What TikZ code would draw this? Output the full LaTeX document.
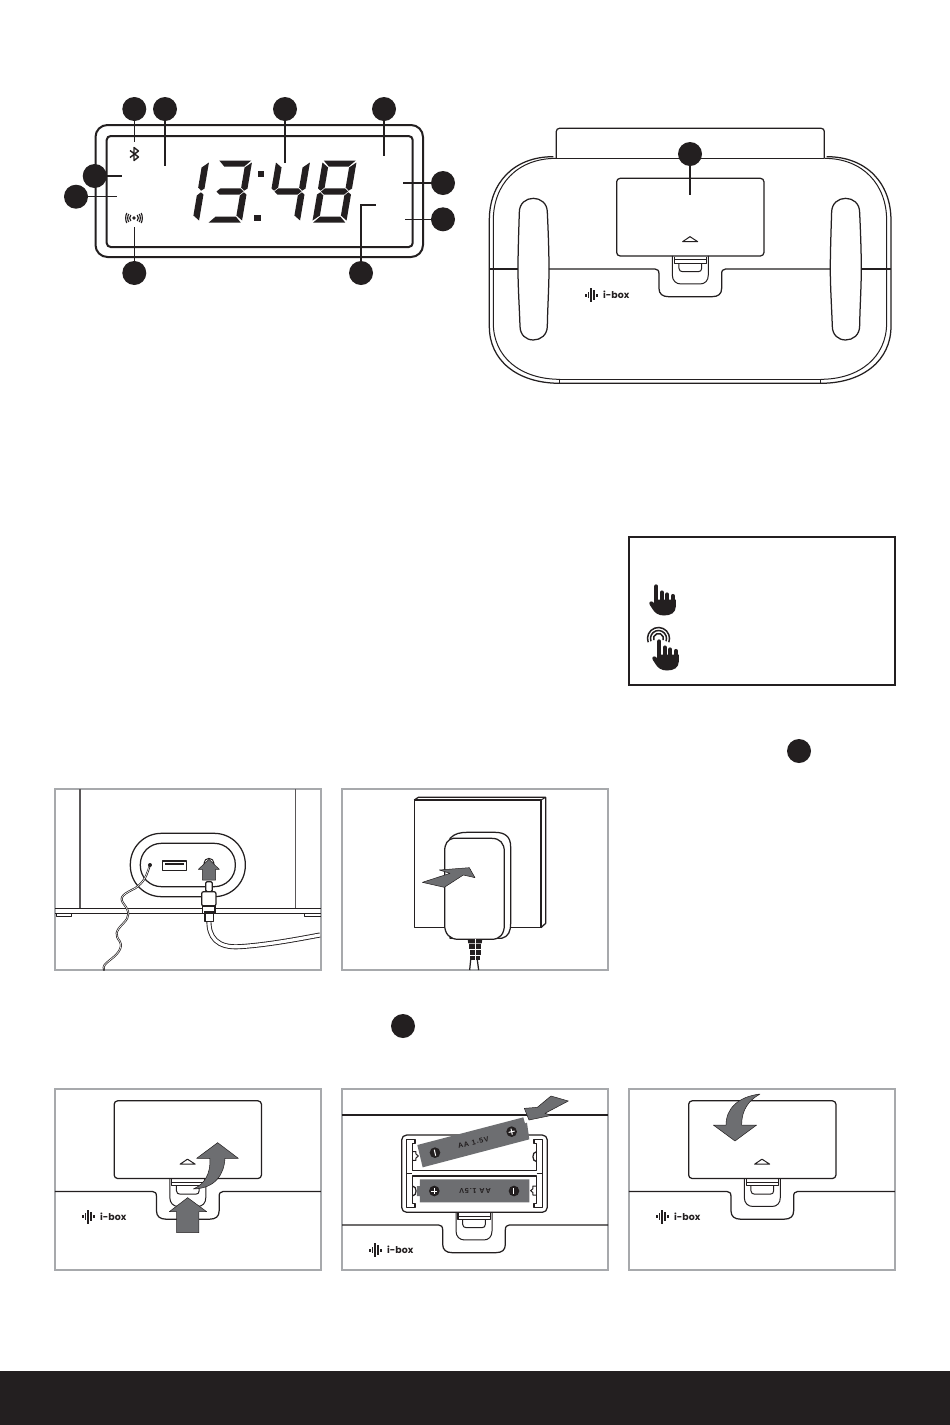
\documentclass[tikz,border=0pt]{standalone}
\usepackage{fontspec}
\setmainfont{Poppins}
\newfontfamily\batfont[LetterSpace=12]{Liberation Sans}
\definecolor{ink}{HTML}{231F20}
\definecolor{frameg}{HTML}{A7A9AC}
\definecolor{arrowg}{HTML}{6D6E71}
\tikzset{
  callout/.style={circle,fill=ink,minimum size=24pt,inner sep=0pt},
  lead/.style={draw=ink,line width=1.5pt},
  ln/.style={draw=ink,line width=1.25pt,line join=round},
  thin line/.style={draw=ink,line width=1pt,line join=round},
  panelbox/.style={draw=frameg,line width=2.5pt},
  grayarrow/.style={fill=arrowg,draw=ink,line width=.5pt,line join=round},
  seg/.style={fill=ink,draw=none},
  ztext/.style={inner sep=0pt,text=ink},
}
\newcommand{\tabgroup}[2]{%
  \draw[ln] (#1,447) -- (525,447) .. controls (533,447) and (537,452) .. (537,462) -- (537,505)
     .. controls (537,522) and (548,530) .. (565,530) -- (697,530) .. controls (715,530) and (725,522) .. (725,505)
     -- (725,462) .. controls (725,452) and (729,447) .. (737,447) -- (#2,447);
  \draw[thin line] (577,408) -- (577,465) .. controls (577,482) and (588,492) .. (603,492) -- (660,492)
     .. controls (675,492) and (685,482) .. (685,465) -- (685,408);
  \draw[ln] (583,410) -- (583,430) -- (680,430) -- (680,410);
  \draw[thin line] (583,420) -- (680,420);
  \draw[thin line] (597,430) -- (597,445) .. controls (597,452) and (602,455) .. (608,455) -- (655,455)
     .. controls (661,455) and (665,452) .. (665,445) -- (665,430);
}
\newcommand{\doorshape}{%
  \draw[ln,rounded corners=3.5pt] (410,175) rectangle (852,408);
  \draw[thin line] (608,365) -- (630,350) -- (653,365) -- cycle;
}
\newcommand{\ibox}[3]{%
  \begin{scope}[shift={(#2,#3)}]
    \fill[ink] (0,-1.5) rectangle (1.8,1.5);
    \fill[ink] (2.6,-3.4) rectangle (4.4,3.4);
    \fill[ink] (5.3,-7) rectangle (7.1,7);
    \fill[ink] (8,-4.7) rectangle (9.8,4.7);
    \fill[ink] (11.2,-1.5) rectangle (13,1.5);
    \node[ztext,anchor=west,font=\fontsize{9.4}{10}\selectfont\bfseries] (#1) at (18,0) {i-box};
  \end{scope}}
\newcommand{\segA}{\fill[seg] (1,-31)--(33,-31)--(27,-25)--(7,-25)--cycle;}
\newcommand{\segB}{\fill[seg] (34,-29)--(34,-3)--(31,-.8)--(27.5,-4)--(27.5,-24)--cycle;}
\newcommand{\segC}{\fill[seg] (34,3)--(34,29)--(27.5,24)--(27.5,4)--(31,.8)--cycle;}
\newcommand{\segD}{\fill[seg] (1,31)--(33,31)--(27,25)--(7,25)--cycle;}
\newcommand{\segE}{\fill[seg] (0,3)--(0,29)--(6.5,24)--(6.5,4)--(3,.8)--cycle;}
\newcommand{\segF}{\fill[seg] (0,-29)--(0,-3)--(3,-.8)--(6.5,-4)--(6.5,-24)--cycle;}
\newcommand{\segG}{\fill[seg] (3.5,0)--(7,-3.2)--(27,-3.2)--(30.5,0)--(27,3.2)--(7,3.2)--cycle;}
\newcommand{\handicon}[2]{%
  \begin{scope}[shift={(#1,#2)}]
    \fill[ink] (5,15) -- (26.8,15) -- (26.8,22) .. controls (26.8,28) and (22,31) .. (15,31)
       .. controls (9,31) and (5.5,28) .. (3.5,24.5) .. controls (1.5,22) and (-.5,19) .. (.8,17.3)
       .. controls (2,16) and (4,17) .. (5.5,19) -- cycle;
    \draw[ink,line width=4.3pt,line cap=round] (7.3,2) -- (7.3,20);
    \draw[ink,line width=4.2pt,line cap=round] (12.8,8) -- (12.8,20);
    \draw[ink,line width=4.2pt,line cap=round] (18.2,10) -- (18.2,20);
    \draw[ink,line width=4.2pt,line cap=round] (23.8,11.5) -- (23.8,20);
  \end{scope}}
\begin{document}
\begin{tikzpicture}[x=1pt,y=-1pt]
\useasboundingbox (0,0) rectangle (950,1425);
\fill[white] (0,0) rectangle (950,1425);
\fill[ink] (0,1371) rectangle (950,1425);

%%% LCD
\draw[draw=ink,line width=2pt,rounded corners=12pt] (95.5,125) rectangle (423,257);
\draw[draw=ink,line width=2pt,rounded corners=4pt] (106.7,136) rectangle (412.7,247);
\begin{scope}[shift={(170,191.5)},xslant=0.17]\segB\segC\end{scope}
\begin{scope}[shift={(213,191.5)},xslant=0.17]\segA\segB\segC\segD\segG\end{scope}
\begin{scope}[shift={(271,191.5)},xslant=0.17]\segB\segC\segF\segG\end{scope}
\begin{scope}[shift={(317.5,191.5)},xslant=0.17]\segA\segB\segC\segD\segE\segF\segG\end{scope}
\fill[ink] (257.5,171) rectangle +(6.5,6.3);
\fill[ink] (254,214.5) rectangle +(6.5,6.3);
\draw[ink,line width=1.4pt,line join=round] (130,150.5)--(138.5,157)--(134,160.5)--(134,147.5)--(138.5,151)--(130,157.5);
\fill[ink] (134,218) circle (1.9);
\foreach \r/\h in {3.2/3,5.2/4,7.2/5}{
  \draw[ink,line width=1.15pt] (134-\r,218-\h) .. controls (134-\r-1.5,218-\h/2) and (134-\r-1.5,218+\h/2) .. (134-\r,218+\h);
  \draw[ink,line width=1.15pt] (134+\r,218-\h) .. controls (134+\r+1.5,218-\h/2) and (134+\r+1.5,218+\h/2) .. (134+\r,218+\h);
}
\node[callout] (c1) at (134.3,109) {};
\node[callout] (c2) at (165,109) {};
\node[callout] (c3) at (285,109) {};
\node[callout] (c4) at (384,109) {};
\node[callout] (c5) at (94.7,176) {};
\node[callout] (c6) at (76,196.7) {};
\node[callout] (c7) at (443,183) {};
\node[callout] (c8) at (443,219.3) {};
\node[callout] (c9) at (134.3,273) {};
\node[callout] (c10) at (361,273) {};
\coordinate (e1) at (134.3,142);
\coordinate (e2) at (165,166);
\coordinate (e3) at (285,162.7);
\coordinate (e4) at (384,156);
\coordinate (e5) at (122,176);
\coordinate (e6) at (117.3,196.7);
\coordinate (e7) at (402.7,183);
\coordinate (e8) at (405,219.3);
\coordinate (e9) at (134.3,226.7);
\coordinate (e10a) at (361,205);
\coordinate (e10) at (375.7,205);
\draw[lead] (c1) -- (e1);
\draw[lead] (c2) -- (e2);
\draw[lead] (c3) -- (e3);
\draw[lead] (c4) -- (e4);
\draw[lead] (c5) -- (e5);
\draw[lead] (c6) -- (e6);
\draw[lead] (c7) -- (e7);
\draw[lead] (c8) -- (e8);
\draw[lead] (c9) -- (e9);
\draw[lead] (c10) -- (e10a) -- (e10);

%%% Device rear
\begin{scope}[shift={(480,120)},x=.3333pt,y=-.3333pt]
  \draw[ln,rounded corners=3pt] (229,115) -- (229,25) -- (1033,25) -- (1033,115);
  \draw[ln] (229,115) -- (1033,115);
  \draw[ln] (220,110) .. controls (100,110) and (28,190) .. (28,300) -- (28,620)
     .. controls (28,720) and (110,790) .. (240,790) -- (1022,790)
     .. controls (1150,790) and (1233,720) .. (1233,620) -- (1233,300)
     .. controls (1233,190) and (1160,110) .. (1040,110);
  \draw[thin line] (229,115) .. controls (110,115) and (40,195) .. (40,300) -- (40,610)
     .. controls (40,710) and (120,778) .. (240,778);
  \draw[thin line] (1033,115) .. controls (1150,115) and (1220,195) .. (1220,300) -- (1220,610)
     .. controls (1220,710) and (1140,778) .. (1022,778);
  \draw[ln] (240,778) -- (1022,778);
  \draw[thin line] (240,778) -- (240,790);
  \draw[thin line] (1022,778) -- (1022,790);
  \foreach \dx in {0,937}{
    \begin{scope}[xshift=\dx*.3333pt]
      \draw[ln] (118,277) .. controls (118,250) and (138,235) .. (160,235)
        .. controls (182,235) and (202,250) .. (202,277) .. controls (205,340) and (207,400) .. (207,447)
        .. controls (207,500) and (203,560) .. (202,618) .. controls (202,645) and (182,660) .. (160,660)
        .. controls (138,660) and (120,645) .. (120,618) .. controls (118,560) and (114,500) .. (114,447)
        .. controls (114,400) and (116,340) .. (118,277) -- cycle;
    \end{scope}}
  \draw[ln] (28,447) -- (114,447);
  \draw[ln] (1146,447) -- (1233,447);
  \tabgroup{207}{1051}
  \doorshape
\end{scope}
\ibox{logo0}{585}{295}
\node[callout] (c11) at (690,154) {};
\coordinate (e11) at (690,194.7);
\draw[lead] (c11) -- (e11);

%%% Touch legend
\draw[draw=ink,line width=2pt] (628.7,537) rectangle (895,685);
\handicon{649}{584.5}
\handicon{652}{639.5}
\foreach \r in {5,8,11}{
  \draw[ink,line width=1.5pt] (658.5-\r*.94,638.5+\r*.34) arc[start angle=200,end angle=-20,radius=\r pt];
}

%%% Lone callouts
\node[callout] (c12) at (799,751) {};
\node[callout] (c13) at (403,1026) {};

%%% Panel 1
\draw[panelbox] (55,789) rectangle (321,970);
\begin{scope}[shift={(50,780)},x=.3333pt,y=-.3333pt]
  \draw[draw=ink!75,line width=1.2pt] (90,27) -- (90,385);
  \draw[draw=ink!75,line width=1.2pt] (737,27) -- (737,385);
  \draw[ln] (16,385) -- (812,385);
  \draw[ln] (16,400) -- (812,400);
  \draw[thin line] (20,400) -- (20,410) -- (65,410) -- (65,400);
  \draw[thin line] (763,400) -- (763,410) -- (812,410);
  \draw[ln,rounded corners=31pt] (241,160) rectangle (586,350);
  \draw[ln,rounded corners=21pt] (271,190) rectangle (556,320);
  \draw[ln] (337,243) rectangle (410,271);
  \fill[ink] (345,250) rectangle (402,255);
  \draw[thin line] (477,250) circle (15);
  \draw[grayarrow] (477,238) -- (508,268) -- (497,268) -- (497,300) -- (457,300) -- (457,268) -- (445,268) -- cycle;
  % thin wire
  \draw[ink,line width=2pt,line cap=round] (300,255) .. controls (290,285) and (285,305) .. (255,325)
     .. controls (225,340) and (205,350) .. (220,370) .. controls (240,395) and (240,410) .. (220,430)
     .. controls (195,455) and (195,465) .. (210,485) .. controls (220,505) and (200,525) .. (180,540)
     .. controls (165,552) and (158,558) .. (162,570);
  \draw[white,line width=.6pt] (298,259) .. controls (290,285) and (285,305) .. (255,325)
     .. controls (225,340) and (205,350) .. (220,370) .. controls (240,395) and (240,410) .. (220,430)
     .. controls (195,455) and (195,465) .. (210,485) .. controls (220,505) and (200,525) .. (180,540)
     .. controls (165,552) and (158,558) .. (162,568);
  \fill[ink] (300,255) circle (6);
  % power cable
  \draw[ink,line width=5pt] (477,420) .. controls (475,470) and (500,505) .. (570,500) .. controls (650,495) and (740,478) .. (810,465);
  \draw[white,line width=3.2pt] (477,420) .. controls (475,470) and (500,505) .. (570,500) .. controls (650,495) and (740,478) .. (810,465);
  \draw[ln,fill=white,rounded corners=1.5pt] (467,305) rectangle (487,335);
  \draw[ln,fill=white,rounded corners=2pt] (455,335) rectangle (498,378);
  \draw[ln,fill=white] (458,378) rectangle (495,400);
  \fill[ink] (462,392) rectangle (491,400);
  \draw[ln,fill=white] (465,400) rectangle (490,425);
\end{scope}

%%% Panel 2
\draw[panelbox] (342,789) rectangle (608,970);
\begin{scope}[shift={(335,780)},x=.3333pt,y=-.3333pt]
  \draw[ln,fill=white] (238,60) -- (618,60) -- (618,443) -- (238,443) -- cycle;
  \draw[ln] (238,60) -- (250,52) -- (632,52) -- (632,430) -- (618,443);
  \draw[thin line] (618,60) -- (632,52);
  \draw[ln,fill=white] (345,175) .. controls (360,160) and (375,157) .. (400,157) -- (480,157)
     .. controls (510,157) and (527,170) .. (527,200) -- (527,430) .. controls (527,455) and (520,470) .. (500,475) -- (345,475) -- cycle;
  \draw[ln,fill=white] (355,175) -- (470,175) .. controls (495,175) and (508,190) .. (508,215) -- (508,435)
     .. controls (508,462) and (495,478) .. (470,478) -- (370,478) .. controls (345,478) and (329,462) .. (329,435)
     -- (329,215) .. controls (329,190) and (338,178) .. (355,175) -- cycle;
  \draw[grayarrow] (262,307) -- (345,280) -- (313,270) -- (403,263) -- (420,293) -- (385,285) -- (328,322) -- cycle;
  \draw[ln] (407,540) -- (404,570);
  \draw[ln] (427,540) -- (431,570);
  \fill[ink] (398,478) -- (442,478) -- (440,490) -- (400,490) -- cycle;
  \fill[ink] (403,493) rectangle (438,508);
  \fill[ink] (405,511) rectangle (437,526);
  \fill[ink] (405,529) rectangle (436,541);
  \draw[draw=white,line width=.8pt] (420,478) -- (420,541);
\end{scope}

%%% Panel 4: open the door
\draw[panelbox] (55,1089) rectangle (321,1270);
\begin{scope}[shift={(-22.5,1042.5)},x=.3333pt,y=-.3333pt]
  \tabgroup{232}{1030}
  \doorshape
\end{scope}
\ibox{logo1}{82}{1216.7}
\begin{scope}[shift={(50,1080)},x=.3333pt,y=-.3333pt]
  \draw[grayarrow] (503,188) -- (565,235) -- (525,235) .. controls (522,285) and (495,325) .. (430,327)
     .. controls (465,312) and (482,280) .. (480,235) -- (440,235) -- cycle;
  \draw[grayarrow] (413,353) -- (470,395) -- (447,395) -- (447,458) -- (380,458) -- (380,395) -- (358,395) -- cycle;
\end{scope}

%%% Panel 5: batteries
\draw[panelbox] (342,1089) rectangle (608,1270);
\begin{scope}[shift={(263.7,1076)},x=.3333pt,y=-.3333pt]
  \tabgroup{235}{1033}
\end{scope}
\ibox{logo2}{369}{1250}
\begin{scope}[shift={(335,1080)},x=.3333pt,y=-.3333pt]
  \draw[draw=ink,line width=2pt] (20,104) -- (820,104);
  \draw[ln,rounded corners=5pt,fill=white] (200,165) rectangle (637,397);
  \draw[ln] (215,178) -- (215,382) -- (240,382) -- (240,370) -- (232,370) -- (232,288) -- (605,288) -- (605,370) -- (597,370) -- (597,382) -- (622,382) -- (622,178) -- (597,178) -- (597,190) -- (605,190) -- (605,272) -- (232,272) -- (232,190) -- (240,190) -- (240,178) -- cycle;
  \draw[thin line] (215,280) -- (232,280);
  \draw[thin line] (605,280) -- (622,280);
  \draw[ln] (605,215) .. controls (590,215) and (590,245) .. (605,245);
  \draw[ln] (232,318) .. controls (247,318) and (247,348) .. (232,348);
  \draw[thin line] (232,215) -- (243,215) -- (243,222) -- (250,228) -- (243,234) -- (243,241) -- (232,241);
  \draw[thin line] (605,318) -- (594,318) -- (594,326) -- (587,332) -- (594,338) -- (594,345) -- (605,345);
  % upper battery
  \fill[arrowg] (247,195) -- (565,112) -- (570,130) -- (576,128) -- (583,178) -- (263,262) -- cycle;
  \node[ztext,rotate=14,font=\fontsize{7.2}{8}\batfont\bfseries] (b1) at (415,187) {AA 1.5V};
  \fill[ink] (530,155) circle (16);
  \fill[ink] (300,218) circle (16);
  \draw[draw=white,line width=1pt] (521,157) -- (539,153);
  \draw[draw=white,line width=1pt] (528,146) -- (532,164);
  \draw[draw=white,line width=1pt] (298,209) -- (302,227);
  % lower battery
  \fill[arrowg] (255,298) -- (583,298) -- (583,367) -- (255,367) -- (255,348) -- (246,348) -- (246,318) -- (255,318) -- cycle;
  \node[ztext,rotate=180,font=\fontsize{7.2}{8}\batfont\bfseries] (b2) at (420,333) {AA 1.5V};
  \fill[ink] (298,333) circle (16);
  \fill[ink] (537,333) circle (16);
  \draw[draw=white,line width=1pt] (289,333) -- (307,333);
  \draw[draw=white,line width=1pt] (298,324) -- (298,342);
  \draw[draw=white,line width=1pt] (537,324) -- (537,342);
  % arrow
  \draw[grayarrow] (568,85) -- (607,82) -- (648,48) -- (700,63) -- (630,100) -- (650,106) -- (582,120) -- cycle;
\end{scope}

%%% Panel 6: close the door
\draw[panelbox] (629,1089) rectangle (895,1270);
\begin{scope}[shift={(552,1042.5)},x=.3333pt,y=-.3333pt]
  \tabgroup{231}{1029}
  \doorshape
\end{scope}
\ibox{logo3}{656}{1216.7}
\begin{scope}[shift={(620,1080)},x=.3333pt,y=-.3333pt]
  \draw[grayarrow] (345,183) -- (280,135) -- (318,135) .. controls (318,85) and (355,50) .. (420,42)
     .. controls (385,62) and (365,90) .. (365,135) -- (410,135) -- cycle;
\end{scope}
\end{tikzpicture}
\end{document}
